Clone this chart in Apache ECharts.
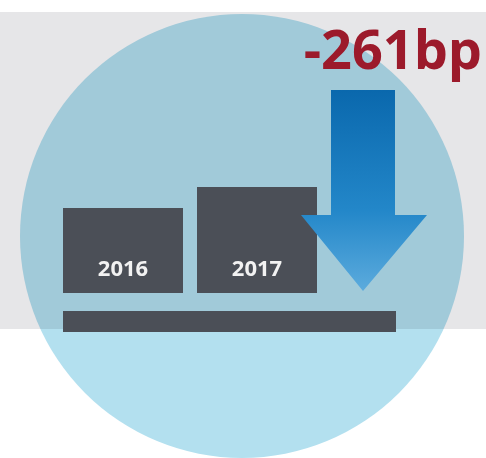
<!DOCTYPE html>
<html><head><meta charset="utf-8">
<script src="https://cdn.jsdelivr.net/npm/echarts@6/dist/echarts.min.js"></script>
<style>html,body{margin:0;padding:0;background:#fff}#c{width:486px;height:458px}</style>
</head><body><div id="c"></div>
<script>
const categories = ['2016', '2017'];
const values = [8.5, 10.6];
const changeLabel = '-261bp';

const chart = echarts.init(document.getElementById('c'), null, {renderer: 'canvas'});
chart.setOption({
  animation: false,
  backgroundColor: '#ffffff',
  grid: {left: 56, right: 162, top: 93, bottom: 165},
  xAxis: {type: 'category', data: categories, show: false},
  yAxis: {type: 'value', min: 0, max: 20, show: false},
  graphic: [
    {type: 'circle', z: 0, shape: {cx: 242, cy: 236, r: 222}, style: {fill: '#b3e0ef'}},
    {type: 'rect', z: 1, shape: {x: 0, y: 12, width: 486, height: 317}, style: {fill: '#e6e6e8', blend: 'multiply'}},
    {type: 'rect', z: 5, shape: {x: 63, y: 311, width: 333, height: 21}, style: {fill: '#4b4f57'}},
    {type: 'polygon', z: 10,
      shape: {points: [[331, 90], [395, 90], [395, 215], [427, 215], [363, 291], [301, 215], [331, 215]]},
      style: {fill: {type: 'linear', x: 0, y: 0, x2: 0, y2: 1, colorStops: [
        {offset: 0, color: '#0a68ad'}, {offset: 0.6, color: '#2387c9'}, {offset: 1, color: '#5cabdd'}]}}},
    {type: 'text', z: 10, style: {text: changeLabel, x: 482, y: 54, align: 'right', verticalAlign: 'middle',
      font: 'bold 54px "Open Sans", sans-serif', fill: '#9c1a2b'}}
  ],
  series: [{
    type: 'bar', data: values, barWidth: 120, z: 3,
    itemStyle: {color: '#4b4f57'},
    label: {show: true, position: 'insideBottom', distance: 12, formatter: '{b}',
      color: '#f2f2f2', fontFamily: 'Open Sans', fontWeight: 'bold', fontSize: 22}
  }]
});
</script></body></html>
